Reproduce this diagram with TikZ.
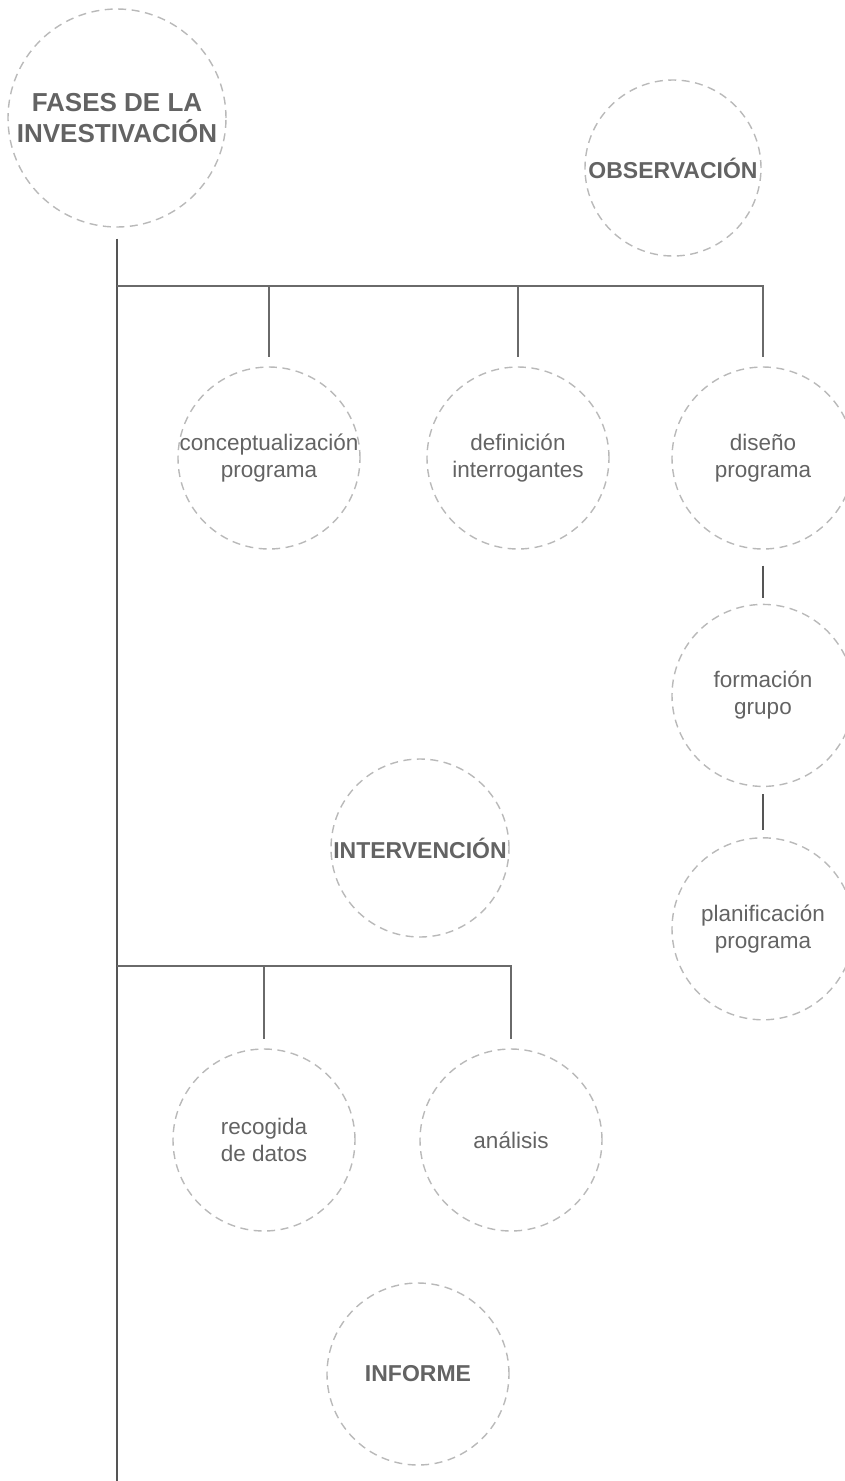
\documentclass[tikz,border=0pt]{standalone}
\usepackage{fontspec}
\setmainfont{Liberation Sans}
\usetikzlibrary{positioning}
\definecolor{txtgray}{HTML}{636363}
\definecolor{linegray}{HTML}{6A6A6A}
\definecolor{ringgray}{HTML}{B9B9B9}

\begin{document}
\begin{tikzpicture}[x=1pt,y=-1pt,
 ring/.style={circle,draw=ringgray,line width=1.4pt,dash pattern=on 8pt off 5.5pt,
   minimum size=182pt,inner sep=-12pt,align=center,text=txtgray,
   font=\fontsize{22.5}{27}\selectfont},
 phase/.style={ring,font=\fontsize{23}{28}\selectfont\bfseries},
 branch/.style={draw=linegray,line width=1.3pt},
 trunk/.style={draw=linegray!80!black,line width=2pt}]
  \useasboundingbox (0,0) rectangle (845,1481);
  \clip (0,0) rectangle (845,1481);

  % phases
  \node[ring,minimum size=218pt,font=\fontsize{26}{31}\selectfont\bfseries] (fases) at (117,118) {FASES DE LA\\INVESTIVACIÓN};
  \node[phase,minimum size=176pt] (obs) at (673,168) {OBSERVACIÓN};
  \node[phase,minimum size=178pt] (int) at (420,848) {INTERVENCIÓN};
  \node[phase] (inf) at (418,1374) {INFORME};

  % steps
  \node[ring] (con) at (269,458) {conceptualización\\programa};
  \node[ring] (def) at (518,458) {definición\\interrogantes};
  \node[ring] (dis) at (763,458) {diseño\\programa};
  \node[ring,below=54pt of dis] (for) {formación\\grupo};
  \node[ring,below=50pt of for] (plan) {planificación\\programa};
  \node[ring] (rec) at (264,1140) {recogida\\de datos};
  \node[ring] (ana) at (511,1140) {análisis};

  \coordinate (bot) at (117,1481);
  \coordinate (j1) at (117,286);
  \coordinate (j2) at (117,966);

  \draw[trunk] ([yshift=-11pt]fases.south) -- (bot);
  \draw[branch] (j1) -- (j1 -| dis) -- ([yshift=9pt]dis.north);
  \foreach \n in {con,def} {
   \draw[branch] (j1 -| \n) -- ([yshift=9pt]\n.north);}
  \draw[branch] (j2) -- (j2 -| ana) -- ([yshift=9pt]ana.north);
  \draw[branch] (j2 -| rec) -- ([yshift=9pt]rec.north);
  \draw[trunk] ([yshift=-16pt]dis.south) -- ([yshift=6pt]for.north);
  \draw[trunk] ([yshift=-7pt]for.south) -- ([yshift=7pt]plan.north);
\end{tikzpicture}
\end{document}
